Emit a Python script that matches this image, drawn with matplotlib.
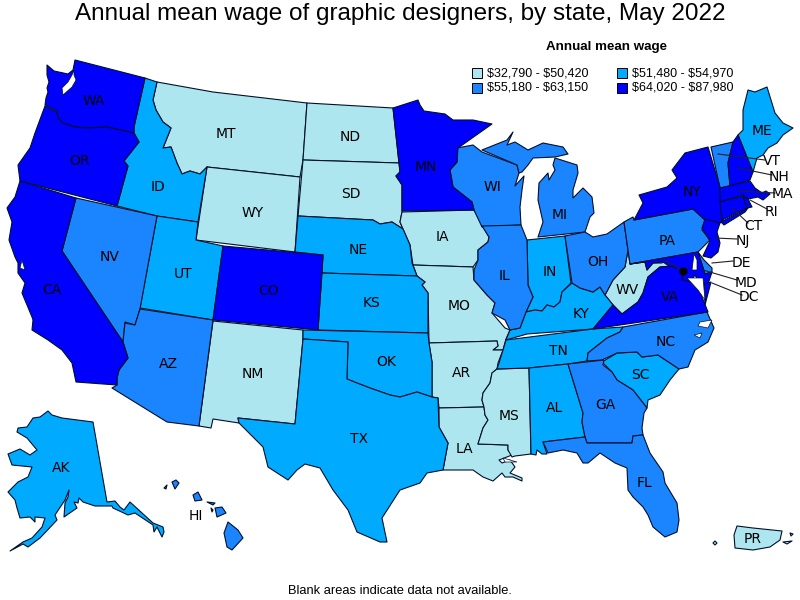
import matplotlib
matplotlib.use('Agg')
import matplotlib.pyplot as plt

plt.rcParams['font.family'] = ['Liberation Sans', 'DejaVu Sans']

title = 'Annual mean wage of graphic designers, by state, May 2022'
legend_title = 'Annual mean wage'
legend_labels = ['$32,790 - $50,420', '$51,480 - $54,970', '$55,180 - $63,150', '$64,020 - $87,980']
legend_colors = ['#AEE6F0', '#00AAFF', '#1A85FF', '#0000FF']
footnote = 'Blank areas indicate data not available.'

# state groups, one per legend bin
group0 = ['MT', 'ND', 'SD', 'WY', 'IA', 'MO', 'AR', 'LA', 'MS', 'NM', 'WV', 'PR', 'PR2', 'PR3', 'PR4']
group1 = ['ID', 'UT', 'NE', 'KS', 'OK', 'TX', 'IN', 'KY', 'TN', 'AL', 'SC', 'ME', 'AK']
group2 = ['NV', 'AZ', 'WI', 'IL', 'MI', 'MI2', 'OH', 'PA', 'NC', 'GA', 'FL', 'VT', 'DE',
          'HI', 'HI2', 'HI3', 'HI4', 'HI5', 'HI6', 'HI7']
group3 = ['WA', 'OR', 'CA', 'CO', 'MN', 'NY', 'NY2', 'NH', 'MA', 'CT', 'RI', 'NJ', 'MD', 'VA', 'VA2']

# outlines, in image pixels
outlines = {}
outlines['WA'] = [(47,65),(54,71),(68,74),(73,70),(75,60),(145,78),(134,127),(134,133),(107,127),(87,128),(75,127),(63,123),(58,118),(57,111),(45,105),(46,98),(48,92),(47,88),(49,82),(47,75)]
outlines['OR'] = [(45,106),(57,112),(58,118),(63,123),(75,127),(87,128),(107,127),(134,133),(139,142),(124,161),(128,166),(117,206),(20,181),(18,165),(30,148),(35,133)]
outlines['CA'] = [(20,181),(76,198),(62,251),(121,339),(123,342),(128,358),(119,370),(117,378),(117,385),(76,382),(72,363),(62,350),(48,340),(32,330),(33,320),(32,317),(22,293),(25,283),(18,273),(18,263),(15,257),(9,240),(12,222),(7,208),(15,197)]
outlines['NV'] = [(76,198),(157,216),(140,309),(135,325),(125,322),(123,342),(62,251)]
outlines['ID'] = [(145,78),(157,82),(153,100),(156,110),(163,122),(171,128),(163,148),(171,147),(177,163),(182,174),(190,171),(200,174),(203,171),(207,167),(198,222),(157,216),(117,206),(128,166),(124,161),(139,142),(134,133),(134,127)]
outlines['MT'] = [(157,82),(213,92),(307,103),(303,160),(300,177),(207,167),(203,171),(200,174),(190,171),(182,174),(177,163),(171,147),(163,148),(171,128),(163,122),(156,110),(153,100)]
outlines['WY'] = [(207,167),(300,177),(295,252),(196,240)]
outlines['ND'] = [(307,103),(393,108),(399,163),(303,160)]
outlines['SD'] = [(303,160),(399,163),(400,172),(396,176),(402,185),(402,212),(400,222),(403,229),(392,222),(380,224),(373,220),(298,216)]
outlines['NE'] = [(298,216),(373,220),(380,224),(392,222),(403,229),(410,245),(412,263),(417,276),(322,273),(323,255),(295,252)]
outlines['KS'] = [(322,273),(417,276),(425,282),(422,285),(428,293),(428,333),(318,330)]
outlines['CO'] = [(223,246),(323,255),(318,330),(213,320)]
outlines['UT'] = [(157,216),(198,222),(196,240),(223,246),(213,320),(140,308)]
outlines['AZ'] = [(140,309),(213,320),(199,426),(167,422),(112,388),(117,385),(117,378),(119,370),(128,358),(123,342),(125,323),(135,325)]
outlines['NM'] = [(213,321),(303,330),(303,339),(295,424),(238,418),(239,423),(213,419),(211,428),(199,426)]
outlines['OK'] = [(303,330),(428,333),(429,343),(432,362),(432,397),(417,392),(400,397),(390,395),(370,388),(357,383),(347,379),(348,342),(303,339)]
outlines['TX'] = [(303,339),(348,342),(347,379),(357,383),(370,388),(390,395),(400,397),(417,392),(432,397),(438,398),(439,427),(448,443),(443,470),(427,473),(420,483),(400,490),(382,518),(387,542),(380,542),(357,532),(348,510),(333,490),(320,468),(305,464),(297,470),(288,480),(268,467),(263,447),(239,423),(238,418),(295,424)]
outlines['MN'] = [(393,108),(418,100),(420,105),(424,111),(445,114),(453,120),(473,120),(492,124),(458,148),(457,162),(450,170),(453,187),(472,202),(474,210),(402,211),(402,185),(396,176),(400,172),(399,163)]
outlines['IA'] = [(402,212),(474,210),(482,225),(489,237),(488,242),(478,250),(478,260),(473,267),(413,265),(410,245),(403,229),(400,222)]
outlines['MO'] = [(413,265),(473,267),(474,280),(487,295),(495,303),(492,313),(505,328),(510,330),(506,339),(503,350),(493,350),(498,346),(497,341),(429,343),(428,293),(422,285),(425,282),(417,276)]
outlines['AR'] = [(429,343),(497,341),(498,346),(493,350),(503,350),(498,363),(497,369),(492,373),(490,383),(483,393),(482,400),(484,407),(439,408),(438,398),(432,397),(432,362)]
outlines['LA'] = [(439,408),(484,407),(485,415),(488,420),(483,428),(478,444),(508,445),(508,450),(512,455),(499,460),(502,463),(510,460),(515,467),(510,473),(522,478),(522,481),(513,477),(505,477),(502,473),(493,481),(483,477),(473,470),(455,470),(443,470),(448,443),(439,427)]
outlines['MS'] = [(497,369),(529,368),(531,454),(515,456),(512,457),(508,450),(508,445),(478,444),(483,428),(488,420),(485,415),(484,407),(482,400),(483,393),(490,383),(492,373)]
outlines['AL'] = [(529,368),(568,364),(583,413),(582,422),(585,437),(543,442),(547,454),(542,454),(537,450),(536,455),(531,454)]
outlines['GA'] = [(568,364),(604,360),(603,365),(612,372),(617,380),(633,390),(647,408),(644,413),(642,428),(643,435),(633,436),(632,443),(587,443),(585,437),(582,422),(583,413)]
outlines['FL'] = [(543,442),(585,437),(587,443),(632,443),(633,436),(643,435),(650,453),(663,472),(665,483),(677,503),(679,520),(677,532),(665,537),(653,527),(648,515),(643,507),(633,497),(628,490),(627,468),(615,463),(600,453),(588,463),(583,463),(577,453),(563,450),(548,453)]
outlines['SC'] = [(602,362),(617,353),(637,352),(642,357),(658,355),(679,369),(670,380),(660,395),(648,400),(647,408),(633,390),(617,380),(612,372)]
outlines['NC'] = [(623,327),(707,312),(714,328),(708,342),(695,350),(688,367),(679,369),(658,355),(642,357),(637,352),(617,353),(602,360),(587,361),(588,353),(607,338),(620,332)]
outlines['TN'] = [(506,340),(593,329),(623,327),(620,332),(607,338),(588,353),(587,361),(568,364),(529,368),(497,369),(499,363),(503,350)]
outlines['KY'] = [(510,330),(520,328),(526,312),(535,310),(542,311),(547,305),(554,307),(560,302),(562,292),(572,283),(580,288),(593,292),(600,287),(605,295),(613,305),(593,329),(527,334),(506,340)]
outlines['IN'] = [(527,240),(565,236),(571,283),(562,292),(560,302),(554,307),(547,305),(542,311),(535,310),(526,312),(533,297),(528,285)]
outlines['IL'] = [(482,226),(521,225),(527,240),(528,285),(533,297),(526,312),(520,328),(510,330),(505,320),(492,313),(495,303),(487,295),(474,280),(474,270),(478,260),(478,250),(488,242),(489,237)]
outlines['WI'] = [(457,148),(473,145),(482,152),(517,165),(519,173),(515,186),(524,176),(522,190),(520,207),(521,225),(482,227),(474,210),(472,202),(453,187),(450,170),(457,162)]
outlines['MI'] = [(482,150),(507,140),(513,132),(507,145),(515,142),(528,150),(543,143),(563,147),(568,154),(555,157),(533,158),(528,165),(522,172),(519,173),(517,165)]
outlines['MI2'] = [(555,158),(577,165),(578,173),(573,190),(573,198),(583,188),(592,197),(594,213),(590,217),(585,232),(538,237),(543,222),(538,200),(539,183),(548,173),(549,180),(555,170),(553,165)]
outlines['OH'] = [(565,236),(585,232),(593,237),(607,234),(624,222),(628,250),(625,267),(613,280),(605,295),(600,287),(593,292),(580,288),(572,283)]
outlines['PA'] = [(624,222),(633,217),(634,220),(693,209),(705,220),(702,230),(710,240),(698,252),(630,264)]
outlines['NY'] = [(634,220),(643,203),(639,195),(667,187),(677,178),(672,170),(685,153),(708,147),(720,187),(723,220),(720,223),(705,220),(693,209)]
outlines['NY2'] = [(721,222),(748,208),(745,212),(724,225)]
outlines['VT'] = [(711,147),(733,142),(728,163),(730,186),(720,188)]
outlines['NH'] = [(733,142),(738,135),(753,172),(750,180),(730,186),(728,163)]
outlines['ME'] = [(748,90),(755,92),(767,87),(775,113),(783,123),(793,128),(783,135),(777,143),(768,148),(763,155),(757,158),(753,172),(738,135),(743,130),(743,110)]
outlines['MA'] = [(720,188),(750,181),(755,188),(762,193),(766,191),(770,194),(763,200),(758,197),(748,199),(743,195),(720,202)]
outlines['CT'] = [(720,202),(743,196),(747,208),(722,220)]
outlines['RI'] = [(743,196),(748,199),(752,207),(747,208)]
outlines['NJ'] = [(705,219),(720,223),(717,232),(720,243),(718,252),(711,258),(703,256),(710,241),(702,228)]
outlines['DE'] = [(698,252),(704,260),(712,268),(712,272),(705,274)]
outlines['MD'] = [(630,264),(698,252),(705,274),(712,272),(708,284),(700,284),(695,275),(690,283),(683,282),(682,274),(672,268),(663,262),(653,263),(647,270),(645,262)]
outlines['WV'] = [(628,250),(630,264),(645,262),(647,270),(653,263),(662,263),(665,258),(672,266),(660,267),(648,277),(643,293),(638,302),(622,314),(613,305),(605,295),(613,280),(625,267)]
outlines['VA'] = [(593,329),(613,305),(622,314),(638,302),(643,293),(648,277),(660,267),(672,266),(683,270),(682,280),(697,283),(702,297),(708,312)]
outlines['VA2'] = [(704,284),(711,282),(705,305)]
outlines['AK'] = [(48,411),(52,415),(62,418),(93,422),(107,502),(115,501),(120,507),(124,510),(130,502),(153,523),(163,527),(164,532),(162,537),(157,527),(154,532),(153,525),(135,513),(128,515),(113,508),(112,506),(95,506),(83,502),(79,498),(78,503),(74,502),(77,508),(64,517),(65,503),(68,497),(69,490),(65,500),(55,515),(57,520),(40,538),(28,547),(23,544),(10,551),(23,542),(32,538),(42,527),(45,518),(35,517),(35,522),(30,517),(20,518),(17,508),(15,500),(8,492),(18,482),(28,477),(32,467),(12,465),(8,454),(20,449),(30,455),(37,450),(27,438),(17,432),(18,428),(27,427),(33,418),(40,417)]
outlines['HI'] = [(228,522),(238,530),(243,538),(232,550),(227,547),(224,533)]
outlines['HI2'] = [(215,508),(222,507),(226,513),(217,517)]
outlines['HI3'] = [(193,495),(198,492),(202,500),(195,501)]
outlines['HI4'] = [(172,482),(176,480),(179,483),(175,489)]
outlines['HI5'] = [(164,488),(167,485),(166,489)]
outlines['HI6'] = [(207,502),(215,503),(213,505)]
outlines['HI7'] = [(211,508),(213,510),(212,512)]
outlines['PR'] = [(737,526),(753,528),(782,531),(780,540),(770,547),(753,550),(735,548),(734,535)]
outlines['PR2'] = [(783,542),(792,541),(787,544)]
outlines['PR3'] = [(790,533),(793,534),(791,536)]
outlines['PR4'] = [(713,543),(715,541),(717,543),(715,545)]

# bays and sounds left blank
water = [
    [(74,70),(72,75),(68,82),(62,88),(63,95),(72,87),(76,80),(74,75)],
    [(22,260),(25,270),(20,268)],
    [(694,254),(692,270),(697,270),(697,260)],
    [(687,278),(695,278),(703,278),(705,300),(698,290)],
    [(700,322),(712,320),(708,328),(698,326)],
    [(694,335),(702,333),(700,338)],
    [(517,462),(505,462),(503,458)],
]

# small states: label text, label position, leader line end points
names = ['WA','OR','CA','NV','ID','MT','WY','UT','CO','AZ','NM','ND','SD','NE','KS','OK','TX','MN','IA','MO','AR','LA','MS','AL','GA','FL','SC','NC','TN','KY','WV','VA','OH','IN','IL','WI','MI','PA','NY','ME','AK','HI','PR','VT','NH','MA','RI','CT','NJ','DE','MD','DC']
name_x = [94,79,52,110,158,226,253,183,269,168,253,350,351,358,372,386,359,426,442,459,461,464,509,555,605,645,640,666,558,581,627,670,598,550,505,492,560,667,692,762,61,196,753,772,779,782,771,753,743,741,746,749]
name_y = [101,161,290,257,187,134,213,274,291,364,374,137,194,250,303,362,439,167,237,306,373,449,416,408,405,483,375,342,351,314,290,297,262,272,276,187,215,241,192,131,468,516,539,161,177,194,212,226,241,263,283,297]
leaders_x = [(718,765),(738,772),(739,775),(750,767),(732,748),(715,737),(712,733),(703,737),(712,742),(665,683)]
leaders_y = [(154,160),(168,175),(191,193),(200,209),(208,223),(238,239),(263,261),(270,280),(283,295),(260,271)]
dc_x = 683
dc_y = 271

fig = plt.figure(figsize=(8, 6), dpi=100)
ax = fig.add_axes([0, 0, 1, 1])
ax.set_xlim(0, 800)
ax.set_ylim(600, 0)
ax.axis('off')

groups = [group0, group1, group2, group3]
for g, color in zip(groups, legend_colors):
    for s in g:
        xs = [p[0] for p in outlines[s]]
        ys = [p[1] for p in outlines[s]]
        ax.fill(xs, ys, facecolor=color, edgecolor='#00102a', linewidth=0.8, joinstyle='round')

for w in water:
    ax.fill([p[0] for p in w], [p[1] for p in w], facecolor='white', edgecolor='#00102a', linewidth=0.5)

for lx, ly in zip(leaders_x, leaders_y):
    ax.plot(lx, ly, color='#222222', linewidth=0.8)
ax.plot([dc_x], [dc_y], 'o', color='black', markersize=5)

for n, x, y in zip(names, name_x, name_y):
    ax.text(x, y, n, fontsize=10, ha='center', va='center', color='black', family=['DejaVu Sans'])

ax.text(400, 14, title, fontsize=17.5, ha='center', va='center')
ax.text(606, 47, legend_title, fontsize=9.6, fontweight='bold', ha='center', va='center')

swatch_x = [472, 617, 472, 617]
swatch_y = [68, 68, 83, 83]
for lab, c, sx, sy in zip(legend_labels, legend_colors, swatch_x, swatch_y):
    ax.fill([sx, sx+10, sx+10, sx], [sy, sy, sy+10, sy+10], facecolor=c, edgecolor='black', linewidth=0.7)
    ax.text(sx+15, sy+5, lab.replace('$', r'\$'), fontsize=9, ha='left', va='center')

ax.text(400, 591, footnote, fontsize=9.3, ha='center', va='center')

fig.savefig('out.png', dpi=100)
